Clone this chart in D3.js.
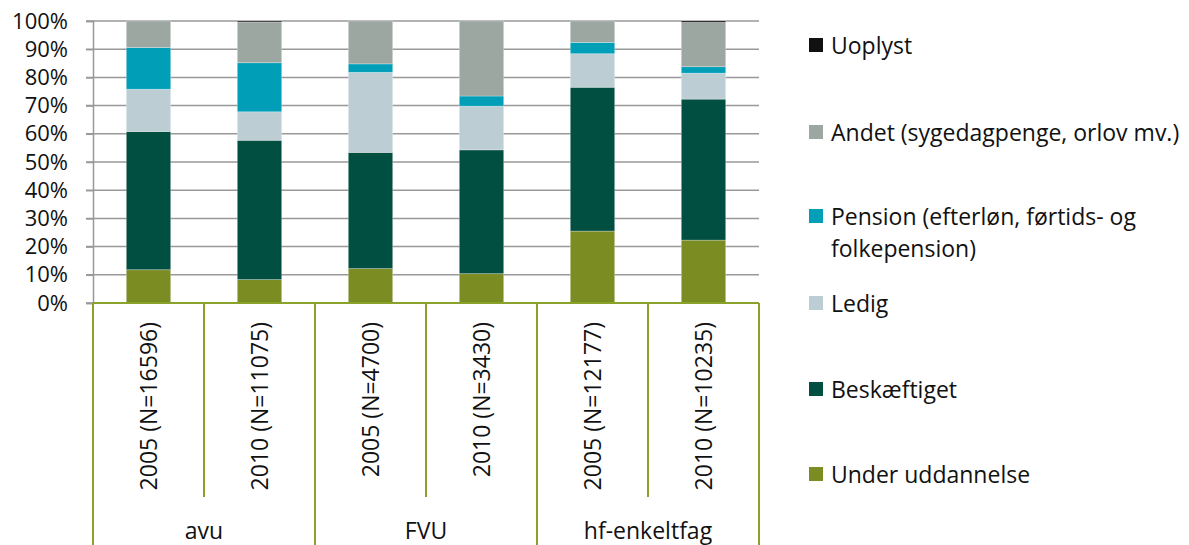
<!DOCTYPE html>
<html>
<head>
<meta charset="utf-8">
<script src="https://cdn.jsdelivr.net/npm/d3@7"></script>
<style>
  body { margin: 0; background: #fff; }
  text { font-family: "Open Sans", Lato, sans-serif; fill: #111; }
</style>
</head>
<body>
<script>
// data
var groups = ["avu", "FVU", "hf-enkeltfag"];
var categories = ["2005 (N=16596)", "2010 (N=11075)", "2005 (N=4700)", "2010 (N=3430)", "2005 (N=12177)", "2010 (N=10235)"];
var catGroup = ["avu", "avu", "FVU", "FVU", "hf-enkeltfag", "hf-enkeltfag"];
var seriesNames = ["Under uddannelse", "Beskæftiget", "Ledig", "Pension (efterløn, førtids- og folkepension)", "Andet (sygedagpenge, orlov mv.)", "Uoplyst"];
var underUdd    = [11.8, 8.3, 12.2, 10.4, 25.5, 22.3];
var beskaeftig  = [49.0, 49.4, 41.2, 43.9, 51.0, 50.0];
var ledig       = [15.0, 10.1, 28.4, 15.5, 11.9, 9.2];
var pension     = [14.8, 17.4, 3.0, 3.6, 4.0, 2.3];
var andet       = [9.4, 14.4, 15.2, 26.6, 7.6, 15.7];
var uoplyst     = [0.0, 0.4, 0.0, 0.0, 0.0, 0.5];
var yTicks = [0, 10, 20, 30, 40, 50, 60, 70, 80, 90, 100];
var colors = ["#7b8c22", "#004f40", "#bdcdd4", "#009fb7", "#9ba7a0", "#111111"];

var svg = d3.select("body").append("svg")
    .attr("width", 1189)
    .attr("height", 545);

var plotL = 93, plotR = 759, plotT = 21, plotB = 303;
var fontSize = 23;

var x = d3.scaleBand().domain(categories).range([plotL, plotR]).paddingInner(0).paddingOuter(0);
var y = d3.scaleLinear().domain([0, 100]).range([plotB, plotT]);

// gridlines
svg.append("g").selectAll("line")
    .data(yTicks)
    .enter().append("line")
    .attr("x1", plotL - 7).attr("x2", plotR)
    .attr("y1", function(d){ return y(d); })
    .attr("y2", function(d){ return y(d); })
    .attr("stroke", "#999")
    .attr("stroke-width", 1.5);

// y axis
var yAxis = svg.append("g")
    .attr("transform", "translate(" + plotL + ",0)")
    .call(d3.axisLeft(y).tickValues(yTicks).tickSize(7).tickPadding(18).tickFormat(function(d){ return d + "%"; }));
yAxis.select(".domain").attr("stroke", "#999").attr("stroke-width", 1.5);
yAxis.selectAll(".tick line").attr("stroke", "#999").attr("stroke-width", 1.5);
yAxis.selectAll("text").attr("font-size", 22).attr("fill", "#111")
    .style("font-family", "'Open Sans', sans-serif");

// stacked bars
var rows = categories.map(function(c, i){
    return {cat: c, s0: underUdd[i], s1: beskaeftig[i], s2: ledig[i], s3: pension[i], s4: andet[i], s5: uoplyst[i]};
});
var stack = d3.stack().keys(["s0", "s1", "s2", "s3", "s4", "s5"]);
var layers = stack(rows);
var barW = x.bandwidth() * 0.4;

svg.append("g").selectAll("g")
    .data(layers)
    .enter().append("g")
    .attr("fill", function(d, i){ return colors[i]; })
    .selectAll("rect")
    .data(function(d){ return d; })
    .enter().append("rect")
    .attr("x", function(d){ return x(d.data.cat) + (x.bandwidth() - barW) / 2; })
    .attr("y", function(d){ return y(d[1]); })
    .attr("width", barW)
    .attr("height", function(d){ return y(d[0]) - y(d[1]); })
    .attr("stroke", "rgba(255,255,255,0.35)")
    .attr("stroke-width", 0.8);

// x axis: olive lines
var olive = "#8aa12c";
svg.append("line")
    .attr("x1", plotL).attr("x2", plotR)
    .attr("y1", plotB).attr("y2", plotB)
    .attr("stroke", olive).attr("stroke-width", 2);

// category dividers (inside groups)
svg.append("g").selectAll("line")
    .data(categories.filter(function(c, i){ return i % 2 === 1; }))
    .enter().append("line")
    .attr("x1", function(d){ return x(d); })
    .attr("x2", function(d){ return x(d); })
    .attr("y1", plotB).attr("y2", 497)
    .attr("stroke", olive).attr("stroke-width", 2);

// group dividers
var groupEdges = [plotL].concat(groups.map(function(g){
    var idx = catGroup.lastIndexOf(g);
    return x(categories[idx]) + x.bandwidth();
}));
svg.append("g").selectAll("line")
    .data(groupEdges)
    .enter().append("line")
    .attr("x1", function(d){ return d; })
    .attr("x2", function(d){ return d; })
    .attr("y1", plotB).attr("y2", 545)
    .attr("stroke", olive).attr("stroke-width", 2);

// category labels (rotated)
svg.append("g").selectAll("text")
    .data(categories)
    .enter().append("text")
    .attr("transform", function(d){
        return "translate(" + (x(d) + x.bandwidth() / 2 + 8) + ",322) rotate(-90)";
    })
    .attr("text-anchor", "end")
    .attr("font-size", fontSize)
    .text(function(d){ return d; });

// group labels
svg.append("g").selectAll("text")
    .data(groups)
    .enter().append("text")
    .attr("x", function(g){
        var i0 = catGroup.indexOf(g), i1 = catGroup.lastIndexOf(g);
        return (x(categories[i0]) + x(categories[i1]) + x.bandwidth()) / 2;
    })
    .attr("y", 539)
    .attr("text-anchor", "middle")
    .attr("font-size", fontSize)
    .text(function(d){ return d; });

// legend
var legendItems = [
    {lines: ["Uoplyst"], c: 5, y: 45},
    {lines: ["Andet (sygedagpenge, orlov mv.)"], c: 4, y: 132},
    {lines: ["Pension (efterløn, førtids- og", "folkepension)"], c: 3, y: 216},
    {lines: ["Ledig"], c: 2, y: 303},
    {lines: ["Beskæftiget"], c: 1, y: 389},
    {lines: ["Under uddannelse"], c: 0, y: 474}
];
var leg = svg.append("g").selectAll("g")
    .data(legendItems)
    .enter().append("g")
    .attr("transform", function(d){ return "translate(809," + d.y + ")"; });
leg.append("rect")
    .attr("x", 0).attr("y", -7)
    .attr("width", 14).attr("height", 14)
    .attr("fill", function(d){ return colors[d.c]; });
leg.each(function(d){
    var t = d3.select(this).append("text")
        .attr("x", 22).attr("y", 9)
        .attr("font-size", fontSize);
    d.lines.forEach(function(l, i){
        t.append("tspan").attr("x", 22).attr("dy", i === 0 ? 0 : 32).text(l);
    });
});
</script>
</body>
</html>
